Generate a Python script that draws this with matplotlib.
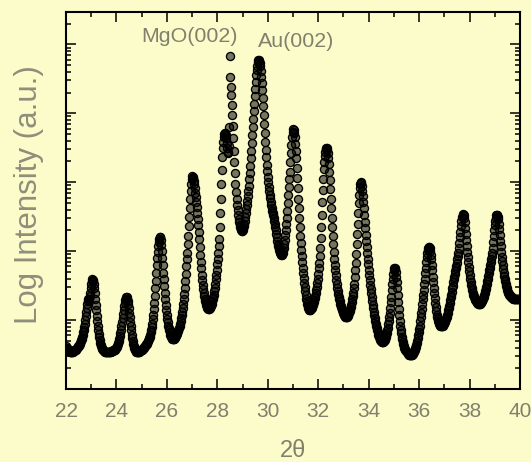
from matplotlib import pyplot as plt
from matplotlib.ticker import LogLocator, MultipleLocator, NullFormatter
import numpy as np

plt.rcParams['font.family'] = ['Liberation Sans', 'DejaVu Sans']

# scan: 2theta from 22 to 40 deg, step 0.02 deg
scan_start = 22.0
scan_step = 0.02

# log10 intensity, one block per degree (50 points each)
log_counts = [
    # 22
    0.62, 0.60, 0.59, 0.58, 0.57, 0.56, 0.55, 0.54, 0.54, 0.54,
    0.54, 0.54, 0.54, 0.54, 0.55, 0.55, 0.56, 0.56, 0.57, 0.57,
    0.58, 0.59, 0.60, 0.61, 0.62, 0.63, 0.64, 0.65, 0.67, 0.69,
    0.71, 0.73, 0.76, 0.79, 0.82, 0.86, 0.90, 0.95, 1.00, 1.06,
    1.12, 1.18, 1.24, 1.28, 1.30, 1.30, 1.31, 1.35, 1.40, 1.47,
    # 23
    1.53, 1.57, 1.59, 1.58, 1.56, 1.52, 1.46, 1.39, 1.31, 1.22,
    1.14, 1.06, 0.98, 0.91, 0.85, 0.80, 0.75, 0.71, 0.67, 0.64,
    0.62, 0.60, 0.58, 0.57, 0.56, 0.55, 0.55, 0.54, 0.54, 0.54,
    0.54, 0.54, 0.54, 0.54, 0.54, 0.54, 0.54, 0.54, 0.54, 0.54,
    0.55, 0.55, 0.55, 0.55, 0.56, 0.56, 0.57, 0.57, 0.58, 0.59,
    # 24
    0.60, 0.61, 0.63, 0.65, 0.67, 0.70, 0.73, 0.77, 0.81, 0.86,
    0.91, 0.97, 1.03, 1.09, 1.15, 1.20, 1.25, 1.29, 1.31, 1.33,
    1.33, 1.31, 1.28, 1.23, 1.17, 1.11, 1.04, 0.97, 0.91, 0.85,
    0.79, 0.74, 0.69, 0.65, 0.62, 0.60, 0.58, 0.56, 0.55, 0.54,
    0.54, 0.54, 0.54, 0.54, 0.54, 0.54, 0.55, 0.55, 0.56, 0.56,
    # 25
    0.57, 0.57, 0.58, 0.59, 0.60, 0.61, 0.62, 0.63, 0.64, 0.65,
    0.66, 0.67, 0.69, 0.70, 0.72, 0.74, 0.76, 0.79, 0.82, 0.86,
    0.90, 0.95, 1.01, 1.08, 1.16, 1.25, 1.35, 1.46, 1.57, 1.69,
    1.80, 1.90, 1.99, 2.07, 2.13, 2.18, 2.21, 2.20, 2.16, 2.09,
    2.00, 1.90, 1.80, 1.69, 1.59, 1.49, 1.40, 1.31, 1.22, 1.15,
    # 26
    1.08, 1.02, 0.97, 0.92, 0.88, 0.85, 0.82, 0.79, 0.77, 0.75,
    0.74, 0.73, 0.72, 0.72, 0.72, 0.73, 0.74, 0.75, 0.77, 0.78,
    0.80, 0.82, 0.84, 0.86, 0.89, 0.92, 0.95, 0.99, 1.03, 1.07,
    1.12, 1.17, 1.23, 1.30, 1.38, 1.47, 1.57, 1.67, 1.78, 1.88,
    1.98, 2.10, 2.22, 2.36, 2.50, 2.63, 2.76, 2.87, 2.97, 3.04,
    # 27
    3.09, 3.08, 3.06, 3.02, 2.97, 2.91, 2.85, 2.79, 2.72, 2.64,
    2.55, 2.47, 2.38, 2.28, 2.17, 2.06, 1.95, 1.85, 1.75, 1.66,
    1.58, 1.51, 1.45, 1.40, 1.35, 1.31, 1.28, 1.25, 1.22, 1.20,
    1.18, 1.17, 1.16, 1.16, 1.16, 1.17, 1.18, 1.20, 1.22, 1.24,
    1.27, 1.30, 1.33, 1.37, 1.42, 1.47, 1.53, 1.59, 1.66, 1.73,
    # 28
    1.81, 1.89, 1.98, 2.07, 2.18, 2.35, 2.55, 2.76, 2.98, 3.18,
    3.36, 3.49, 3.58, 3.65, 3.70, 3.72, 3.72, 3.69, 3.64, 3.57,
    3.50, 3.44, 3.42, 3.52, 3.80, 4.83, 4.52, 4.38, 4.26, 4.12,
    3.98, 3.82, 3.64, 3.46, 3.29, 3.13, 2.98, 2.86, 2.76, 2.67,
    2.60, 2.53, 2.47, 2.42, 2.38, 2.35, 2.32, 2.30, 2.29, 2.29,
    # 29
    2.31, 2.33, 2.36, 2.40, 2.44, 2.49, 2.55, 2.61, 2.67, 2.73,
    2.80, 2.87, 2.95, 3.04, 3.14, 3.24, 3.35, 3.46, 3.57, 3.68,
    3.80, 3.92, 4.03, 4.14, 4.25, 4.36, 4.46, 4.55, 4.63, 4.69,
    4.74, 4.77, 4.78, 4.76, 4.73, 4.68, 4.61, 4.53, 4.44, 4.34,
    4.22, 4.10, 3.98, 3.85, 3.72, 3.59, 3.47, 3.36, 3.25, 3.16,
    # 30
    3.07, 3.00, 2.93, 2.87, 2.82, 2.77, 2.72, 2.67, 2.63, 2.59,
    2.55, 2.52, 2.48, 2.44, 2.40, 2.35, 2.30, 2.25, 2.20, 2.15,
    2.11, 2.07, 2.04, 2.01, 1.99, 1.97, 1.96, 1.95, 1.95, 1.96,
    1.98, 2.01, 2.05, 2.10, 2.16, 2.23, 2.30, 2.39, 2.48, 2.59,
    2.70, 2.81, 2.93, 3.04, 3.15, 3.29, 3.42, 3.54, 3.65, 3.73,
    # 31
    3.77, 3.76, 3.72, 3.65, 3.55, 3.46, 3.35, 3.21, 3.06, 2.91,
    2.76, 2.62, 2.48, 2.35, 2.22, 2.12, 2.02, 1.93, 1.84, 1.76,
    1.68, 1.61, 1.54, 1.48, 1.42, 1.36, 1.31, 1.27, 1.23, 1.20,
    1.18, 1.16, 1.15, 1.15, 1.15, 1.16, 1.17, 1.18, 1.20, 1.22,
    1.24, 1.26, 1.29, 1.32, 1.35, 1.39, 1.43, 1.48, 1.54, 1.60,
    # 32
    1.67, 1.75, 1.83, 1.93, 2.05, 2.19, 2.35, 2.53, 2.72, 2.89,
    3.05, 3.19, 3.30, 3.38, 3.44, 3.48, 3.50, 3.50, 3.47, 3.42,
    3.35, 3.26, 3.15, 3.03, 2.90, 2.76, 2.62, 2.48, 2.35, 2.22,
    2.10, 1.99, 1.89, 1.80, 1.72, 1.65, 1.58, 1.52, 1.47, 1.42,
    1.38, 1.34, 1.30, 1.27, 1.24, 1.21, 1.19, 1.16, 1.14, 1.12,
    # 33
    1.10, 1.08, 1.07, 1.06, 1.05, 1.04, 1.04, 1.04, 1.05, 1.06,
    1.08, 1.10, 1.13, 1.16, 1.19, 1.22, 1.26, 1.30, 1.35, 1.40,
    1.46, 1.53, 1.62, 1.72, 1.83, 1.96, 2.10, 2.25, 2.40, 2.55,
    2.70, 2.82, 2.92, 2.98, 3.00, 2.99, 2.95, 2.88, 2.80, 2.71,
    2.62, 2.52, 2.43, 2.33, 2.24, 2.15, 2.06, 1.97, 1.89, 1.81,
    # 34
    1.73, 1.65, 1.58, 1.51, 1.45, 1.39, 1.33, 1.27, 1.22, 1.17,
    1.12, 1.07, 1.03, 0.99, 0.95, 0.91, 0.88, 0.85, 0.82, 0.79,
    0.77, 0.75, 0.73, 0.71, 0.70, 0.69, 0.68, 0.68, 0.68, 0.68,
    0.69, 0.70, 0.71, 0.73, 0.75, 0.78, 0.81, 0.85, 0.89, 0.94,
    0.99, 1.05, 1.11, 1.18, 1.26, 1.34, 1.43, 1.52, 1.60, 1.67,
    # 35
    1.72, 1.75, 1.76, 1.74, 1.70, 1.63, 1.55, 1.46, 1.36, 1.26,
    1.16, 1.07, 0.99, 0.92, 0.86, 0.81, 0.76, 0.72, 0.68, 0.65,
    0.62, 0.60, 0.58, 0.56, 0.55, 0.54, 0.53, 0.52, 0.51, 0.50,
    0.50, 0.49, 0.49, 0.49, 0.49, 0.49, 0.50, 0.51, 0.52, 0.53,
    0.55, 0.57, 0.59, 0.61, 0.64, 0.67, 0.70, 0.74, 0.78, 0.82,
    # 36
    0.87, 0.92, 0.98, 1.04, 1.10, 1.16, 1.23, 1.30, 1.37, 1.44,
    1.52, 1.60, 1.68, 1.76, 1.84, 1.91, 1.97, 2.02, 2.05, 2.06,
    2.06, 2.04, 2.00, 1.95, 1.88, 1.80, 1.72, 1.63, 1.55, 1.47,
    1.39, 1.32, 1.25, 1.19, 1.13, 1.08, 1.04, 1.01, 0.98, 0.96,
    0.94, 0.93, 0.92, 0.91, 0.91, 0.91, 0.91, 0.92, 0.93, 0.94,
    # 37
    0.96, 0.97, 0.99, 1.01, 1.03, 1.05, 1.08, 1.11, 1.14, 1.17,
    1.21, 1.25, 1.29, 1.33, 1.37, 1.41, 1.46, 1.50, 1.55, 1.59,
    1.63, 1.67, 1.71, 1.75, 1.79, 1.83, 1.88, 1.93, 1.98, 2.05,
    2.12, 2.20, 2.28, 2.36, 2.44, 2.50, 2.53, 2.54, 2.53, 2.48,
    2.42, 2.34, 2.25, 2.16, 2.07, 1.99, 1.91, 1.84, 1.77, 1.71,
    # 38
    1.65, 1.60, 1.55, 1.51, 1.47, 1.43, 1.40, 1.37, 1.35, 1.33,
    1.31, 1.29, 1.28, 1.27, 1.26, 1.25, 1.25, 1.24, 1.24, 1.24,
    1.24, 1.24, 1.25, 1.26, 1.27, 1.28, 1.30, 1.32, 1.34, 1.36,
    1.39, 1.42, 1.45, 1.48, 1.52, 1.56, 1.60, 1.64, 1.68, 1.72,
    1.76, 1.80, 1.84, 1.88, 1.93, 1.98, 2.05, 2.13, 2.22, 2.30,
    # 39
    2.38, 2.44, 2.48, 2.52, 2.53, 2.53, 2.50, 2.46, 2.40, 2.32,
    2.24, 2.15, 2.07, 1.99, 1.92, 1.86, 1.80, 1.74, 1.69, 1.64,
    1.60, 1.56, 1.52, 1.49, 1.46, 1.43, 1.41, 1.39, 1.38, 1.37,
    1.36, 1.35, 1.34, 1.33, 1.33, 1.32, 1.32, 1.31, 1.31, 1.31,
    1.31, 1.31, 1.31, 1.31, 1.31, 1.31, 1.31, 1.31, 1.31, 1.31,
    # 40
    1.31,
]

peak_labels = ['MgO(002)', 'Au(002)']
x_ticks = [22, 24, 26, 28, 30, 32, 34, 36, 38, 40]

bg = '#fcfccb'
text_gray = '#80806c'

two_theta = scan_start + scan_step * np.arange(len(log_counts))
intensity = 10 ** np.array(log_counts)

fig = plt.figure(figsize=(5.31, 4.62), dpi=100, facecolor=bg)
ax = fig.add_axes([0.1243, 0.158, 0.855, 0.816])
ax.set_facecolor(bg)

# half-transparent fill: overlapping markers go dark like in the original
ax.scatter(two_theta, intensity, s=34, facecolor=(0, 0, 0, 0.53),
           edgecolor='black', linewidths=0.95, zorder=3)

ax.set_yscale('log')
ax.set_xlim(22, 40)
ax.set_ylim(1, 10 ** 5.47)

ax.set_xticks(x_ticks)
ax.set_xticklabels([str(t) for t in x_ticks])
ax.xaxis.set_minor_locator(MultipleLocator(1))
ax.yaxis.set_major_locator(LogLocator(base=10, numticks=10))
ax.yaxis.set_minor_locator(LogLocator(base=10, subs=np.arange(2, 10), numticks=20))
ax.yaxis.set_major_formatter(NullFormatter())
ax.yaxis.set_minor_formatter(NullFormatter())

ax.tick_params(which='both', direction='in', top=True, right=True,
               colors='black', width=1.1, labelcolor=text_gray, labelsize=15)
ax.tick_params(which='major', length=7.2, pad=9)
ax.tick_params(which='minor', length=3.6)
for s in ax.spines.values():
    s.set_linewidth(1.5)

ax.set_ylabel('Log Intensity (a.u.)', fontsize=22.5, color='#8e8e7b')
ax.yaxis.set_label_coords(-0.048, 0.515)
ax.set_xlabel('2θ', fontsize=17, color=text_gray)
ax.xaxis.set_label_coords(0.5, -0.135)

ax.text(0.271, 0.934, peak_labels[0], transform=ax.transAxes, ha='center',
        va='center', fontsize=15.4, color=text_gray)
ax.text(0.507, 0.922, peak_labels[1], transform=ax.transAxes, ha='center',
        va='center', fontsize=15.4, color=text_gray)

plt.savefig('out.png', dpi=100, facecolor=bg)
